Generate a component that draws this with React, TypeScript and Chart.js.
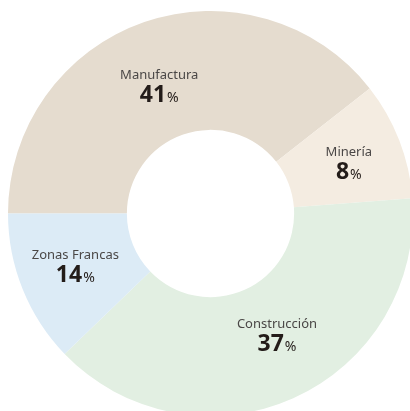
import React, { useEffect, useRef } from "react";
import { Chart, registerables } from "chart.js";

Chart.register(...registerables);

const categories = ["Manufactura", "Minería", "Construcción", "Zonas Francas"];
// slice shares as drawn in the picture
const sliceValues = [39.4, 9.4, 39.0, 12.2];
// percentages printed on the chart
const percentLabels = ["41", "8", "37", "14"];
const sliceColors = ["#e5dccf", "#f4ece1", "#e2efe2", "#dcebf6"];
// small label nudges (px) from each slice's mid point
const labelNudgeX = [-4.5, 5, 8, -2.5];
const labelNudgeY = [6.5, 0.5, -10, -2];

const labelPlugin = {
  id: "sliceLabels",
  afterDraw(chart: any) {
    const ctx = chart.ctx;
    const meta = chart.getDatasetMeta(0);
    meta.data.forEach((arc: any, i: number) => {
      const p = arc.tooltipPosition();
      const cx = p.x + labelNudgeX[i];
      const cy = p.y + labelNudgeY[i];
      ctx.save();
      ctx.textAlign = "center";
      ctx.textBaseline = "alphabetic";
      ctx.fillStyle = "#4a4746";
      ctx.font = '400 13px "Noto Sans"';
      ctx.fillText(categories[i], cx, cy - 6);
      const numFont = '700 23px "Noto Sans"';
      const pctFont = '400 14px "Noto Sans"';
      ctx.font = numFont;
      const wNum = ctx.measureText(percentLabels[i]).width;
      ctx.font = pctFont;
      const wPct = ctx.measureText("%").width;
      const total = wNum + 1 + wPct;
      const x0 = cx - total / 2;
      ctx.textAlign = "left";
      ctx.fillStyle = "#231c19";
      ctx.font = numFont;
      ctx.fillText(percentLabels[i], x0, cy + 17);
      ctx.font = pctFont;
      ctx.fillText("%", x0 + wNum + 1, cy + 17);
      ctx.restore();
    });
  },
};

export default function App() {
  const ref = useRef<HTMLCanvasElement | null>(null);
  useEffect(() => {
    if (!ref.current) return;
    const chart = new Chart(ref.current, {
      type: "doughnut",
      data: {
        labels: categories,
        datasets: [
          {
            data: sliceValues,
            backgroundColor: sliceColors,
            borderWidth: 0,
          },
        ],
      },
      options: {
        responsive: false,
        animation: false,
        rotation: -90,
        cutout: "41.3%",
        layout: { padding: 0 },
        plugins: {
          legend: { display: false },
          tooltip: { enabled: false },
        },
      },
      plugins: [labelPlugin],
    });
    return () => chart.destroy();
  }, []);
  return (
    <div
      style={{
        position: "fixed",
        left: 0,
        top: 0,
        width: 410,
        height: 411,
        overflow: "hidden",
        background: "#fff",
      }}
    >
      <div style={{ position: "absolute", left: 8, top: 11, width: 405, height: 405 }}>
        <canvas ref={ref} width={405} height={405} style={{ width: 405, height: 405 }} />
      </div>
    </div>
  );
}
